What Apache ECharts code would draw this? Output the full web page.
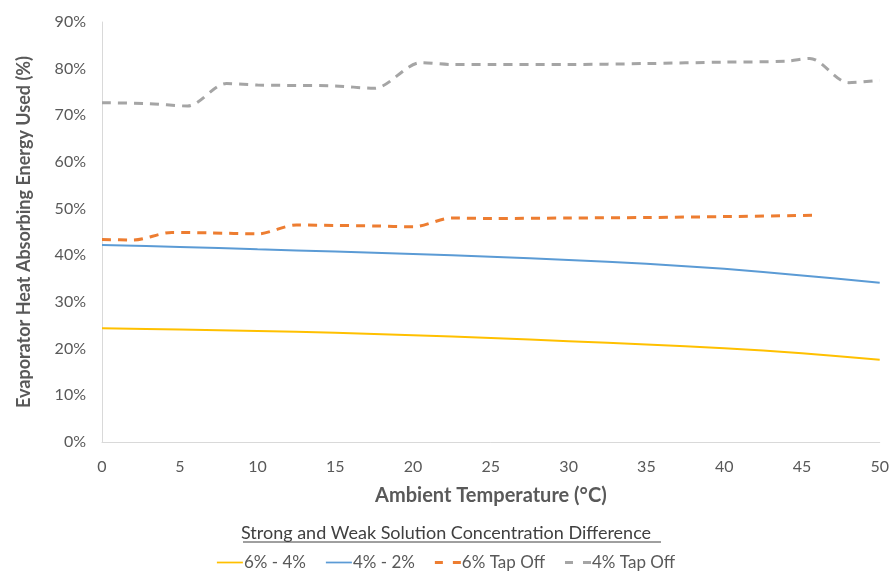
<!DOCTYPE html>
<html><head><meta charset="utf-8">
<script src="https://cdn.jsdelivr.net/npm/echarts@6/dist/echarts.min.js"></script>
<style>html,body{margin:0;padding:0;background:#fff}#c{width:892px;height:577px}</style>
</head><body><div id="c"></div>
<script>
const tempsLine = [0, 5, 10, 15, 20, 25, 30, 35, 40, 45, 50];
const s64 = [24.4, 24.1, 23.8, 23.4, 22.9, 22.3, 21.6, 20.9, 20.1, 19.0, 17.6];
const s42 = [42.2, 41.8, 41.3, 40.8, 40.3, 39.7, 39.0, 38.2, 37.1, 35.7, 34.1];
const temps6Tap = [0, 2, 4.5, 7, 10, 12.5, 15, 17.5, 20, 22.5, 25, 30, 35, 40, 46];
const tap6 = [43.4, 43.3, 44.9, 44.8, 44.6, 46.5, 46.4, 46.3, 46.1, 48.0, 47.9, 48.0, 48.1, 48.3, 48.6];
const temps4Tap = [0, 3, 5.5, 8, 10, 12.5, 15, 17.5, 20.5, 22.5, 25, 30, 35, 40, 44, 45.5, 48, 50];
const tap4 = [72.7, 72.5, 72.0, 76.8, 76.5, 76.4, 76.3, 75.8, 81.3, 80.9, 80.9, 80.9, 81.1, 81.4, 81.6, 82.2, 77.0, 77.5];
const seriesNames = ['6% - 4%', '4% - 2%', '6% Tap Off', '4% Tap Off'];
const legendTitle = 'Strong and Weak Solution Concentration Difference';

const zip = (xs, ys) => xs.map((x, i) => [x, ys[i]]);
const font = 'Lato, "Open Sans", sans-serif';
const grey = '#595959';
const solidIcon = 'path://M0,0H30V2H0Z';
const dashIcon = 'path://M0,0H8V3H0Z M18,0H26V3H18Z';
const chart = echarts.init(document.getElementById('c'));
chart.setOption({
  animation: false,
  textStyle: { fontFamily: font },
  title: {
    text: legendTitle, left: 'center', top: 519,
    textStyle: { fontFamily: font, fontSize: 18, fontWeight: 'normal', color: '#404040' }
  },
  graphic: [{
    type: 'line', shape: { x1: 243, y1: 542, x2: 661, y2: 542 },
    style: { stroke: '#404040', lineWidth: 1 }
  }],
  legend: {
    data: [
      { name: seriesNames[0], icon: solidIcon },
      { name: seriesNames[1], icon: solidIcon },
      { name: seriesNames[2], icon: dashIcon },
      { name: seriesNames[3], icon: dashIcon }
    ],
    bottom: 1, left: 'center', itemWidth: 26, itemHeight: 3, itemGap: 20,
    textStyle: { fontFamily: font, fontSize: 17, color: grey, padding: [0, 0, 0, -4] }
  },
  grid: { left: 102, right: 12, top: 22, bottom: 135 },
  xAxis: {
    type: 'value', min: 0, max: 50, interval: 5,
    name: 'Ambient Temperature (°C)', nameLocation: 'middle', nameGap: 44,
    nameTextStyle: { fontFamily: font, fontSize: 20, fontWeight: 'bold', color: grey },
    axisLine: { lineStyle: { color: '#d9d9d9' } },
    axisTick: { show: false },
    axisLabel: { fontSize: 16, color: grey, margin: 17 },
    splitLine: { show: false }
  },
  yAxis: {
    type: 'value', min: 0, max: 90, interval: 10,
    name: 'Evaporator Heat Absorbing Energy Used (%)', nameLocation: 'middle', nameGap: 69,
    nameTextStyle: { fontFamily: font, fontSize: 18, fontWeight: 'bold', color: grey },
    axisLine: { show: true, lineStyle: { color: '#d9d9d9' } },
    axisTick: { show: false },
    axisLabel: { fontSize: 16, color: grey, margin: 16, formatter: '{value}%' },
    splitLine: { show: false }
  },
  series: [
    { name: seriesNames[0], type: 'line', data: zip(tempsLine, s64), smooth: 0.3, symbol: 'none',
      lineStyle: { color: '#FFC000', width: 2 }, itemStyle: { color: '#FFC000' } },
    { name: seriesNames[1], type: 'line', data: zip(tempsLine, s42), smooth: 0.3, symbol: 'none',
      lineStyle: { color: '#5B9BD5', width: 2 }, itemStyle: { color: '#5B9BD5' } },
    { name: seriesNames[2], type: 'line', data: zip(temps6Tap, tap6), smooth: 0.3, symbol: 'none',
      lineStyle: { color: '#ED7D31', width: 3, type: [9, 7] }, itemStyle: { color: '#ED7D31' } },
    { name: seriesNames[3], type: 'line', data: zip(temps4Tap, tap4), smooth: 0.3, symbol: 'none',
      lineStyle: { color: '#A5A5A5', width: 3, type: [9, 7] }, itemStyle: { color: '#A5A5A5' } }
  ]
});
</script></body></html>
